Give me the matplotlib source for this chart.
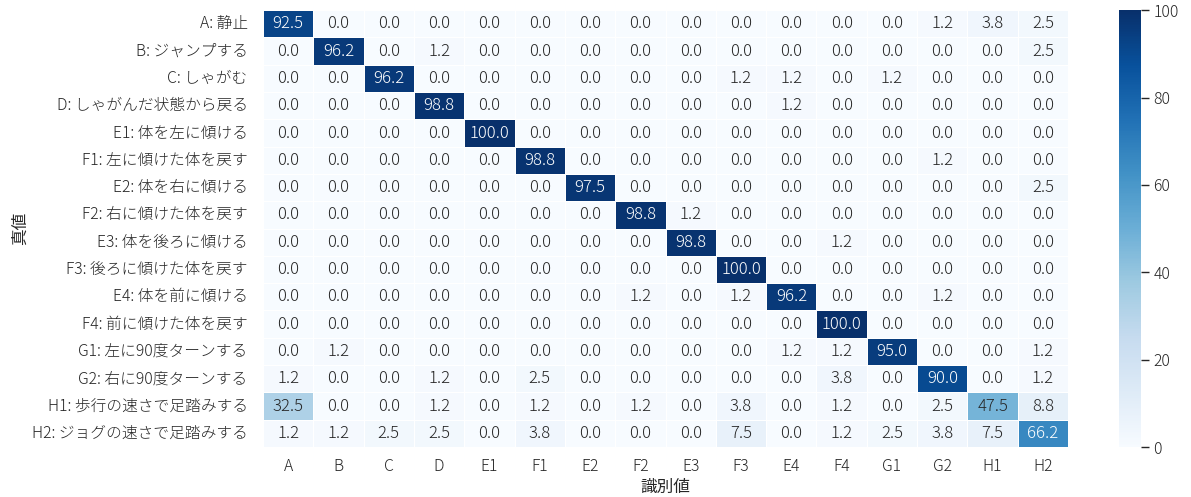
import numpy as np
import seaborn as sns
from matplotlib import pyplot as plt

sns.set_theme(style="white")
plt.rcParams['font.family'] = ['Noto Sans CJK JP', 'DejaVu Sans']
plt.rcParams['font.weight'] = 300

pred_labels = ["A", "B", "C", "D", "E1", "F1", "E2", "F2", "E3", "F3", "E4", "F4", "G1", "G2", "H1", "H2"]
true_labels = [
    "A: 静止", "B: ジャンプする", "C: しゃがむ", "D: しゃがんだ状態から戻る",
    "E1: 体を左に傾ける", "F1: 左に傾けた体を戻す", "E2: 体を右に傾ける", "F2: 右に傾けた体を戻す",
    "E3: 体を後ろに傾ける", "F3: 後ろに傾けた体を戻す", "E4: 体を前に傾ける", "F4: 前に傾けた体を戻す",
    "G1: 左に90度ターンする", "G2: 右に90度ターンする", "H1: 歩行の速さで足踏みする", "H2: ジョグの速さで足踏みする",
]

# confusion matrix in percent (rows = true, cols = predicted)
cm = np.array([
    [92.5, 0, 0, 0, 0, 0, 0, 0, 0, 0, 0, 0, 0, 1.2, 3.8, 2.5],
    [0, 96.2, 0, 1.2, 0, 0, 0, 0, 0, 0, 0, 0, 0, 0, 0, 2.5],
    [0, 0, 96.2, 0, 0, 0, 0, 0, 0, 1.2, 1.2, 0, 1.2, 0, 0, 0],
    [0, 0, 0, 98.8, 0, 0, 0, 0, 0, 0, 1.2, 0, 0, 0, 0, 0],
    [0, 0, 0, 0, 100.0, 0, 0, 0, 0, 0, 0, 0, 0, 0, 0, 0],
    [0, 0, 0, 0, 0, 98.8, 0, 0, 0, 0, 0, 0, 0, 1.2, 0, 0],
    [0, 0, 0, 0, 0, 0, 97.5, 0, 0, 0, 0, 0, 0, 0, 0, 2.5],
    [0, 0, 0, 0, 0, 0, 0, 98.8, 1.2, 0, 0, 0, 0, 0, 0, 0],
    [0, 0, 0, 0, 0, 0, 0, 0, 98.8, 0, 0, 1.2, 0, 0, 0, 0],
    [0, 0, 0, 0, 0, 0, 0, 0, 0, 100.0, 0, 0, 0, 0, 0, 0],
    [0, 0, 0, 0, 0, 0, 0, 1.2, 0, 1.2, 96.2, 0, 0, 1.2, 0, 0],
    [0, 0, 0, 0, 0, 0, 0, 0, 0, 0, 0, 100.0, 0, 0, 0, 0],
    [0, 1.2, 0, 0, 0, 0, 0, 0, 0, 0, 1.2, 1.2, 95.0, 0, 0, 1.2],
    [1.2, 0, 0, 1.2, 0, 2.5, 0, 0, 0, 0, 0, 3.8, 0, 90.0, 0, 1.2],
    [32.5, 0, 0, 1.2, 0, 1.2, 0, 1.2, 0, 3.8, 0, 1.2, 0, 2.5, 47.5, 8.8],
    [1.2, 1.2, 2.5, 2.5, 0, 3.8, 0, 0, 0, 7.5, 0, 1.2, 2.5, 3.8, 7.5, 66.2],
])

fig = plt.figure(figsize=(11.91, 4.97), dpi=100)
ax = fig.add_axes([0.2208, 0.1006, 0.676, 0.879])
cax = fig.add_axes([0.9396, 0.1006, 0.0185, 0.879])

sns.heatmap(cm, annot=True, fmt=".1f", cmap="Blues", vmin=0, vmax=100,
            linewidths=0.5, linecolor="white",
            xticklabels=pred_labels, yticklabels=true_labels,
            annot_kws={"size": 12}, ax=ax, cbar_ax=cax)

ax.tick_params(axis="y", length=0, labelsize=11.3, pad=11)
ax.tick_params(axis="x", length=0, labelsize=11.3, pad=8)
ax.set_xlabel("識別値", fontsize=12, labelpad=3)
ax.set_ylabel("真値", fontsize=12, labelpad=2)
plt.setp(ax.get_yticklabels(), rotation=0)
plt.setp(ax.get_xticklabels(), rotation=0)

cax.tick_params(axis="y", length=6, width=1, labelsize=11.3, left=False, right=True, pad=3)
cax.set_yticks([0, 20, 40, 60, 80, 100])

plt.savefig("out.png", dpi=100)
